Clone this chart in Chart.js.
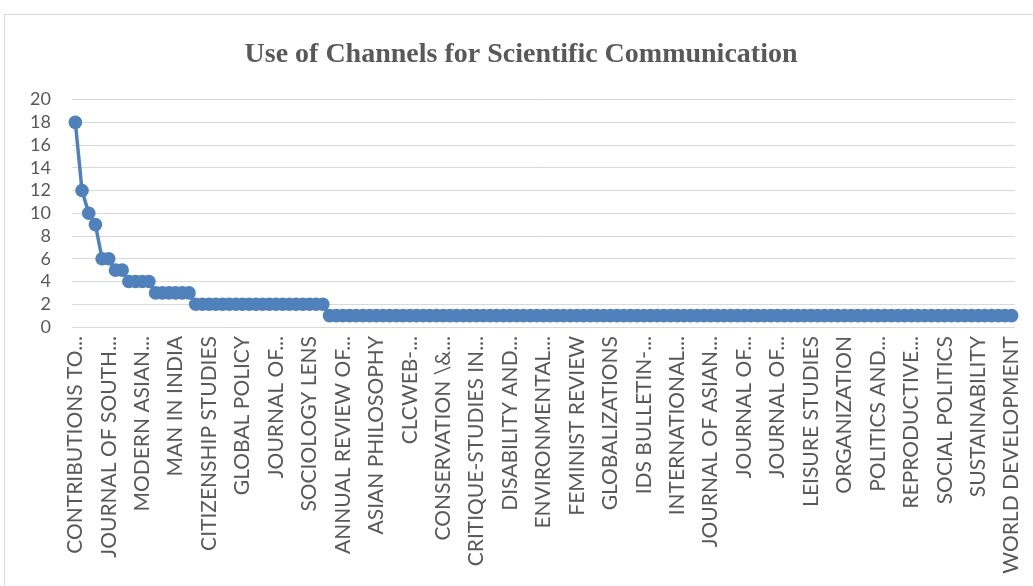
<!DOCTYPE html>
<html>
<head>
<meta charset="utf-8">
<script src="https://cdn.jsdelivr.net/npm/chart.js@4/dist/chart.umd.min.js"></script>
<style>
    html, body { margin: 0; padding: 0; background: #fff; }
    body { width: 1033px; height: 586px; overflow: hidden; position: relative; }
    #frame { position: absolute; left: 4px; top: 14px; width: 1100px; height: 700px; border: 1px solid #D9D9D9; }
    #wrap { position: absolute; left: 0; top: 0; width: 1033px; height: 586px; }
</style>
</head>
<body>
<div id="frame"></div>
<div id="wrap"><canvas id="lineChart"></canvas></div>
<script>
// every 5th journal gets a label on the axis
var shownLabels = [
    'CONTRIBUTIONS TO...', 'JOURNAL OF SOUTH...', 'MODERN ASIAN...', 'MAN IN INDIA',
    'CITIZENSHIP STUDIES', 'GLOBAL POLICY', 'JOURNAL OF...', 'SOCIOLOGY LENS',
    'ANNUAL REVIEW OF...', 'ASIAN PHILOSOPHY', 'CLCWEB-...', 'CONSERVATION \\&...',
    'CRITIQUE-STUDIES IN...', 'DISABILITY AND...', 'ENVIRONMENTAL...', 'FEMINIST REVIEW',
    'GLOBALIZATIONS', 'IDS BULLETIN-...', 'INTERNATIONAL...', 'JOURNAL OF ASIAN...',
    'JOURNAL OF...', 'JOURNAL OF...', 'LEISURE STUDIES', 'ORGANIZATION',
    'POLITICS AND...', 'REPRODUCTIVE...', 'SOCIAL POLITICS', 'SUSTAINABILITY',
    'WORLD DEVELOPMENT'
];

// number of papers per journal, sorted high to low
var papers = [
    18, 12, 10, 9, 6, 6, 5, 5, 4, 4, 4, 4, 3, 3, 3, 3, 3, 3,
    2, 2, 2, 2, 2, 2, 2, 2, 2, 2, 2, 2, 2, 2, 2, 2, 2, 2, 2, 2,
    1, 1, 1, 1, 1, 1, 1, 1, 1, 1, 1, 1, 1, 1, 1, 1, 1, 1, 1, 1,
    1, 1, 1, 1, 1, 1, 1, 1, 1, 1, 1, 1, 1, 1, 1, 1, 1, 1, 1, 1,
    1, 1, 1, 1, 1, 1, 1, 1, 1, 1, 1, 1, 1, 1, 1, 1, 1, 1, 1, 1,
    1, 1, 1, 1, 1, 1, 1, 1, 1, 1, 1, 1, 1, 1, 1, 1, 1, 1, 1, 1,
    1, 1, 1, 1, 1, 1, 1, 1, 1, 1, 1, 1, 1, 1, 1, 1, 1, 1, 1, 1,
    1, 1, 1
];

var yTicks = [0, 2, 4, 6, 8, 10, 12, 14, 16, 18, 20];

var categories = papers.map(function (v, i) {
    return i % 5 === 0 ? shownLabels[i / 5] : '';
});

var grey = '#595959';
var ctx = document.getElementById('lineChart').getContext('2d');
var lineChart = new Chart(ctx, {
    type: 'line',
    data: {
        labels: categories,
        datasets: [{
            label: 'Papers',
            data: papers,
            borderColor: '#4F81BD',
            backgroundColor: '#4F81BD',
            borderWidth: 3.5,
            pointRadius: 6.8,
            pointHoverRadius: 6.8,
            pointBorderWidth: 0,
            tension: 0,
            fill: false
        }]
    },
    options: {
        responsive: true,
        maintainAspectRatio: false,
        animation: false,
        layout: { padding: { left: 27, right: 18, top: 0, bottom: 0 } },
        plugins: {
            legend: { display: false },
            tooltip: { enabled: false },
            title: {
                display: true,
                text: 'Use of Channels for Scientific Communication',
                color: grey,
                font: { family: 'Liberation Serif', size: 28, weight: 'bold' },
                padding: { top: 38, bottom: 28 }
            }
        },
        scales: {
            x: {
                offset: true,
                grid: { display: false, drawTicks: false },
                border: { display: false },
                ticks: {
                    autoSkip: false,
                    maxRotation: 90,
                    minRotation: 90,
                    padding: 9,
                    color: grey,
                    font: { family: 'Lato', size: 21 }
                },
                afterFit: function (scale) {
                    // labels fit inside the layout padding, no extra room at the ends
                    scale.height = 259;
                    scale.paddingLeft = 0;
                    scale.paddingRight = 0;
                }
            },
            y: {
                min: yTicks[0],
                max: yTicks[yTicks.length - 1],
                grid: { color: '#D9D9D9', lineWidth: 1, drawTicks: false },
                border: { display: false },
                afterBuildTicks: function (scale) {
                    scale.ticks = yTicks.map(function (v) { return { value: v }; });
                },
                ticks: {
                    autoSkip: false,
                    padding: 21,
                    color: grey,
                    font: { family: 'Lato', size: 18 }
                },
                afterFit: function (scale) { scale.width = 45; }
            }
        }
    }
});
</script>
</body>
</html>
